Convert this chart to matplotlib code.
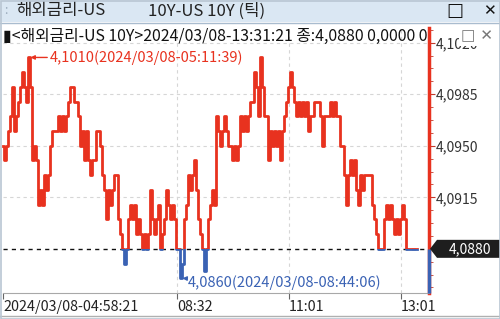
import matplotlib
matplotlib.use("Agg")
import matplotlib.pyplot as plt
import numpy as np
from matplotlib.patches import Rectangle, Polygon
from matplotlib.lines import Line2D
from matplotlib.ticker import FixedLocator, MultipleLocator, FuncFormatter

plt.rcParams['font.family'] = ['Noto Sans CJK KR', 'DejaVu Sans']

# Tick-by-tick yield (US 10Y), one value per tick index
prices = [
    4.0950, 4.0940, 4.0950, 4.0960, 4.0970, 4.0990, 4.0960, 4.0970, 4.0980, 4.0990,
    4.1000, 4.0990, 4.0980, 4.1010, 4.0990, 4.0940, 4.0950, 4.0940, 4.0910, 4.0920,
    4.0910, 4.0930, 4.0920, 4.0930, 4.0950, 4.0960, 4.0960, 4.0960, 4.0970, 4.0960,
    4.0970, 4.0960, 4.0970, 4.0980, 4.0990, 4.0990, 4.0980, 4.0980, 4.0970, 4.0950,
    4.0960, 4.0940, 4.0960, 4.0940, 4.0930, 4.0940, 4.0940, 4.0960, 4.0960, 4.0950,
    4.0930, 4.0920, 4.0900, 4.0920, 4.0910, 4.0920, 4.0930, 4.0930, 4.0900, 4.0890,
    4.0880, 4.0870, 4.0880, 4.0900, 4.0910, 4.0900, 4.0910, 4.0890, 4.0900, 4.0890,
    4.0880, 4.0890, 4.0880, 4.0890, 4.0920, 4.0900, 4.0890, 4.0900, 4.0910, 4.0880,
    4.0890, 4.0900, 4.0920, 4.0910, 4.0900, 4.0910, 4.0900, 4.0880, 4.0880, 4.0860,
    4.0870, 4.0900, 4.0910, 4.0930, 4.0920, 4.0930, 4.0940, 4.0920, 4.0900, 4.0890,
    4.0880, 4.0865, 4.0880, 4.0900, 4.0910, 4.0920, 4.0910, 4.0970, 4.0960, 4.0950,
    4.0960, 4.0970, 4.0960, 4.0950, 4.0950, 4.0940, 4.0950, 4.0940, 4.0950, 4.0970,
    4.0960, 4.0970, 4.0960, 4.0970, 4.0980, 4.0980, 4.1000, 4.0990, 4.0970, 4.1010,
    4.0990, 4.0970, 4.0970, 4.0940, 4.0960, 4.0950, 4.0960, 4.0950, 4.0960, 4.0940,
    4.0960, 4.0970, 4.0980, 4.0990, 4.1000, 4.0990, 4.0980, 4.0970, 4.0980, 4.0970,
    4.0980, 4.0970, 4.0980, 4.0960, 4.0970, 4.0970, 4.0980, 4.0980, 4.0980, 4.0970,
    4.0950, 4.0970, 4.0970, 4.0970, 4.0980, 4.0970, 4.0980, 4.0970, 4.0970, 4.0950,
    4.0950, 4.0930, 4.0910, 4.0930, 4.0940, 4.0930, 4.0940, 4.0920, 4.0910, 4.0930,
    4.0920, 4.0930, 4.0930, 4.0930, 4.0930, 4.0910, 4.0900, 4.0890, 4.0880, 4.0880,
    4.0880, 4.0900, 4.0910, 4.0900, 4.0910, 4.0900, 4.0890, 4.0900, 4.0890, 4.0900,
    4.0910, 4.0900, 4.0880, 4.0880, 4.0880, 4.0880, 4.0880, 4.0880,
]
last_price = 4.0880
high_idx, high_label = 13, "4,1010(2024/03/08-05:11:39)"
low_idx, low_label = 89, "4,0860(2024/03/08-08:44:06)"

x_tick_pos = [0, 87, 143, 199]
x_tick_labels = ["2024/03/08-04:58:21", "08:32", "11:01", "13:01"]
y_ticks = [4.0880, 4.0915, 4.0950, 4.0985, 4.1020]

title_left = "해외금리-US"
title_right = "10Y-US 10Y (틱)"
info_text = "▮<해외금리-US 10Y>2024/03/08-13:31:21 종:4,0880 0,0000 0"

RED = '#e8321f'
BLUE = '#3a62b4'
W, H = 500, 319

fig = plt.figure(figsize=(5, 3.19), dpi=100)
fig.patch.set_facecolor('white')

# title bar
fig.patches.append(Rectangle((0, 1 - 22 / H), 1, 22 / H, transform=fig.transFigure,
                             facecolor='#dae7f3', edgecolor='none', zorder=0))
fig.lines.append(Line2D([0, 1], [1 - 22.5 / H] * 2, transform=fig.transFigure, color='#a9bccf', lw=1))
fig.text(4 / W, 1 - 11 / H, ":", fontsize=9, color='#9aaabb', va='center')
fig.text(16 / W, 1 - 11 / H, title_left, fontsize=12, color='#222222', va='center')
fig.text(148 / W, 1 - 11 / H, title_right, fontsize=12, color='#222222', va='center')
fig.text(455 / W, 1 - 11 / H, "□", fontsize=13, color='#111111', va='center', ha='center',
         family='DejaVu Sans', fontweight='bold')
fig.text(489 / W, 1 - 11 / H, "✕", fontsize=11, color='#111111', va='center', ha='center',
         family='DejaVu Sans', fontweight='bold')

ax = fig.add_axes([3 / W, (H - 293) / H, (429 - 3) / W, (293 - 28) / H])
x = np.arange(len(prices))
ax.set_xlim(0, 213)
ax.set_ylim(4.0850, 4.1030)

# grid
for yv in y_ticks[1:]:
    ax.axhline(yv, color='#d6d6d6', lw=0.8, ls=(0, (3, 3)), zorder=1)
for xv in x_tick_pos[1:]:
    ax.axvline(xv, color='#d6d6d6', lw=0.8, ls=(0, (3, 3)), zorder=1)
ax.axhline(last_price, color='#111111', lw=1, ls=(0, (3, 3)), zorder=2)

# price line: red above last price, blue below
up, = ax.plot(x, prices, color=RED, lw=2, drawstyle='steps-mid', zorder=3)
dn, = ax.plot(x, prices, color=BLUE, lw=2, drawstyle='steps-mid', zorder=3)
up.set_clip_path(Rectangle((-5, last_price), 300, 1, transform=ax.transData))
dn.set_clip_path(Rectangle((-5, last_price - 1), 300, 1, transform=ax.transData))

# annotations for high / low
ax.annotate(high_label, xy=(high_idx, prices[high_idx]), xytext=(21, 0), textcoords='offset pixels',
            color=RED, fontsize=10.5, va='center', ha='left',
            arrowprops=dict(arrowstyle='-|>', color=RED, lw=1, mutation_scale=6, shrinkA=0, shrinkB=1))
ax.annotate(low_label, xy=(low_idx, prices[low_idx]), xytext=(7, -4), textcoords='offset pixels',
            color=BLUE, fontsize=10.5, va='center', ha='left',
            arrowprops=dict(arrowstyle='-|>', color=BLUE, lw=1, mutation_scale=6, shrinkA=0, shrinkB=1))

ax.text(0, 1 - 8 / 265, info_text, transform=ax.transAxes, fontsize=11.4, color='#111111',
        va='center', ha='left', clip_on=True, zorder=4)

# spines
for s in ['top', 'left']:
    ax.spines[s].set_visible(False)
ax.spines['bottom'].set_color('#a8a8a8')
ax.spines['right'].set_color(RED)
ax.spines['right'].set_linewidth(2.5)
ax.vlines(213, 4.0850, last_price, color=BLUE, lw=2.5, clip_on=False, zorder=5)

# y axis on the right
ax.yaxis.tick_right()
ax.yaxis.set_major_locator(FixedLocator(y_ticks))
ax.yaxis.set_minor_locator(MultipleLocator(0.000875))
ax.yaxis.set_major_formatter(FuncFormatter(
    lambda v, p: "" if abs(v - last_price) < 1e-6 else f"{v:.4f}".replace('.', ',')))
ax.tick_params(axis='y', which='both', direction='out', colors='#c0392b', labelcolor='#333333',
               labelsize=10, pad=1)
ax.tick_params(axis='y', which='major', length=4)
ax.tick_params(axis='y', which='minor', length=3)

# x axis
ax.set_xticks(x_tick_pos)
ax.set_xticklabels(x_tick_labels)
ax.tick_params(axis='x', direction='out', length=4, color='#666666', labelcolor='#222222',
               labelsize=10.3, pad=1)
for lab in ax.get_xticklabels():
    lab.set_ha('left')

# last price tag
fig.canvas.draw()
yd = ax.transData.transform((0, last_price))[1]
tag = Polygon([[430, yd], [437, yd + 9], [500, yd + 9], [500, yd - 9], [437, yd - 9]],
              closed=True, transform=None, facecolor='#1e1e1e', edgecolor='none', zorder=6)
fig.patches.append(tag)
fig.text(470 / W, yd / H, "4,0880", color='white', fontsize=10, ha='center', va='center', zorder=7)

# small window icons over the top label
fig.text(477 / W, 1 - 36 / H, "□ ✕", fontsize=11, color='#777777', ha='center', va='center',
         family='DejaVu Sans', zorder=7,
         bbox=dict(boxstyle='square,pad=0.15', facecolor='white', edgecolor='none'))

# outer border
fig.patches.append(Rectangle((0.5 / W, 0.5 / H), 1 - 1 / W, 1 - 1 / H, transform=fig.transFigure,
                             facecolor='none', edgecolor='#b9c6d3', lw=1.2, zorder=8))
fig.lines.append(Line2D([0, 1], [3 / H] * 2, transform=fig.transFigure, color='#b0b0b0', lw=1))

fig.savefig('out.png', dpi=100)
